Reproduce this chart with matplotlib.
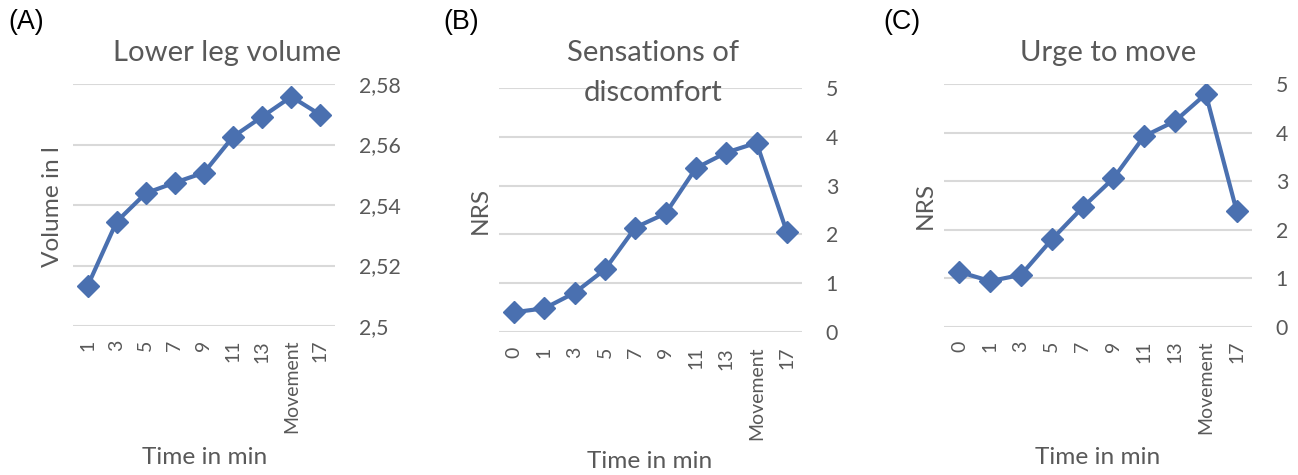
import matplotlib
matplotlib.use('Agg')
import matplotlib.pyplot as plt

# data
labels_a = ['1', '3', '5', '7', '9', '11', '13', 'Movement', '17']
volume = [2.5132, 2.5345, 2.5439, 2.5474, 2.5507, 2.5626, 2.5692, 2.5758, 2.5698]

labels_bc = ['0', '1', '3', '5', '7', '9', '11', '13', 'Movement', '17']
discomfort = [0.40, 0.48, 0.80, 1.28, 2.14, 2.43, 3.36, 3.68, 3.88, 2.05]
urge = [1.13, 0.94, 1.07, 1.80, 2.46, 3.06, 3.93, 4.24, 4.80, 2.39]

yticks_a = [2.50, 2.52, 2.54, 2.56, 2.58]
yticklabels_a = ['2,5', '2,52', '2,54', '2,56', '2,58']
yticks_bc = [0, 1, 2, 3, 4, 5]

plt.rcParams['font.family'] = ['Lato', 'DejaVu Sans']
BLUE = '#4a70b0'
GREY = '#595959'

W, H = 1298, 475
fig = plt.figure(figsize=(W / 100, H / 100), dpi=100)
renderer = fig.canvas.get_renderer()


def fit(s, target_px, **kw):
    """ font size that makes s about target_px wide """
    t = fig.text(0, 0, s, fontsize=10, **kw)
    w = t.get_window_extent(renderer).width
    t.remove()
    return 10 * target_px / w


TITLE_FS = fit('Lower leg volume', 227)
LABEL_FS = fit('Time in min', 125)
XTICK_FS = fit('Movement', 94)
YTICK_FS = fit('2,58', 42)
PANEL_FS = fit('(A)', 36, family=['Liberation Sans', 'DejaVu Sans'])


def px_axes(x0, x1, ytop, ybot):
    return fig.add_axes([x0 / W, 1 - ybot / H, (x1 - x0) / W, (ybot - ytop) / H])


def style(ax, labels, values, yticks, yticklabels, ylim, xpad):
    x = list(range(len(labels)))
    ax.plot(x, values, color=BLUE, lw=3, marker='D', ms=11, zorder=3)
    ax.set_xlim(-0.5, len(labels) - 0.5)
    ax.set_ylim(*ylim)
    ax.set_xticks(x)
    ax.set_xticklabels(labels, rotation=90, fontsize=XTICK_FS, color=GREY)
    ax.set_yticks(yticks)
    ax.set_yticklabels(yticklabels, fontsize=YTICK_FS, color=GREY)
    ax.yaxis.tick_right()
    ax.tick_params(axis='both', length=0)
    ax.tick_params(axis='y', pad=17)
    ax.tick_params(axis='x', pad=xpad)
    ax.grid(axis='y', color='#d9d9d9', lw=1.5)
    ax.set_axisbelow(True)
    for s in ax.spines.values():
        s.set_visible(False)


ax1 = px_axes(73, 335, 84, 326)
style(ax1, labels_a, volume, yticks_a, yticklabels_a, (2.5, 2.58), 10)

ax2 = px_axes(499, 802, 88.3, 331.7)
style(ax2, labels_bc, discomfort, yticks_bc, [str(t) for t in yticks_bc], (0, 5), 11)

ax3 = px_axes(944, 1252, 84.3, 326.7)
style(ax3, labels_bc, urge, yticks_bc, [str(t) for t in yticks_bc], (0, 5), 10)


def ftext(x, y, s, **kw):
    fig.text(x / W, 1 - y / H, s, ha='center', va='center', color=GREY, **kw)


ftext(227, 53, 'Lower leg volume', fontsize=TITLE_FS)
ftext(653, 53, 'Sensations of', fontsize=TITLE_FS)
ftext(653, 93, 'discomfort', fontsize=TITLE_FS)
ftext(1108, 53, 'Urge to move', fontsize=TITLE_FS)

ftext(53, 207, 'Volume in l', fontsize=LABEL_FS, rotation=90)
ftext(480, 210, 'NRS', fontsize=LABEL_FS, rotation=90)
ftext(925, 205, 'NRS', fontsize=LABEL_FS, rotation=90)

ftext(205, 457, 'Time in min', fontsize=LABEL_FS)
ftext(650, 462, 'Time in min', fontsize=LABEL_FS)
ftext(1098, 457, 'Time in min', fontsize=LABEL_FS)

for x, s in [(8, '(A)'), (443, '(B)'), (883, '(C)')]:
    fig.text(x / W, 1 - 22 / H, s, ha='left', va='center', fontsize=PANEL_FS,
             color='black', family=['Liberation Sans', 'DejaVu Sans'])

fig.savefig('out.png', dpi=100)
